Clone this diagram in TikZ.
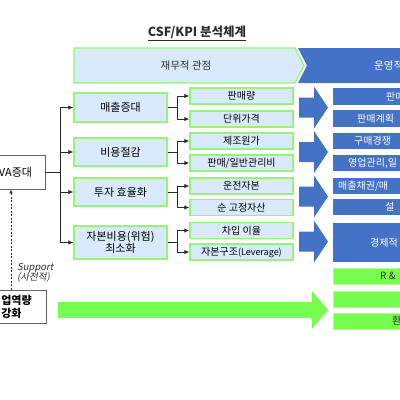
\documentclass[tikz,border=0pt]{standalone}
\usepackage{fontspec}
\setmainfont{Noto Sans CJK KR}
\newfontfamily\slantfont[FakeSlant=0.2]{Noto Sans CJK KR}
\usepackage{tikz}
\usetikzlibrary{arrows.meta, positioning}
\definecolor{boxfill}{RGB}{216,234,251}
\definecolor{boxline}{RGB}{150,245,120}
\definecolor{deepblue}{RGB}{68,114,196}
\definecolor{limegreen}{RGB}{119,252,80}
\definecolor{linegray}{RGB}{40,40,40}
\definecolor{framegray}{RGB}{100,100,100}
\definecolor{textgray}{RGB}{45,45,45}
\tikzset{
  goalbox/.style={draw=boxline, fill=boxfill, line width=1.3pt, minimum width=93pt, inner sep=0pt, align=center, font=\fontsize{11}{12.5}\selectfont},
  kpibox/.style={draw=boxline, fill=boxfill, line width=1.3pt, minimum width=103pt, minimum height=16pt, inner sep=0pt, font=\fontsize{10}{11}\selectfont},
  opbox/.style={fill=deepblue, minimum width=80pt, inner sep=0pt, anchor=west},
  supbox/.style={fill=limegreen, draw=limegreen!60!white, minimum width=80pt, minimum height=16pt, inner sep=0pt, anchor=west},
  plainbox/.style={draw=framegray, fill=white, line width=0.8pt, inner sep=0pt, minimum width=59pt},
  optext/.style={anchor=west, inner sep=0pt, font=\fontsize{10}{11}\selectfont},
  link/.style={draw=linegray, line width=1pt, -{Latex[length=5pt,width=4.5pt]}},
}
\begin{document}
\begin{tikzpicture}[x=1pt, y=-1pt]
    \useasboundingbox (0,0) rectangle (400,400);
    \clip (0,0) rectangle (400,400);
    % title
    \node[font=\bfseries\fontsize{12.5}{14}\selectfont, text=textgray] (title) at (197,33) {\underline{CSF/KPI 분석체계}};
    % header strip
    \draw[draw=boxline, fill=boxfill, line width=1.3pt] (74,48) -- (295,48) -- (304,65.5) -- (295,83) -- (74,83) -- cycle;
    \node[font=\fontsize{10.5}{12}\selectfont, text=textgray] (fin) at (186,65.5) {재무적 관점};
    \fill[deepblue] (298,48) -- (402,48) -- (402,83) -- (298,83) -- (307,65.5) -- cycle;
    \node[optext, text=white, font=\fontsize{10.5}{12}\selectfont] (ops) at (374,65.5) {운영적};
    % left boxes
    \node[plainbox, minimum height=34pt, font=\fontsize{11}{12.5}\selectfont] (eva) at (15.5,172) {VA증대};
    \node[plainbox, minimum height=33pt, align=left, font=\bfseries\fontsize{11}{13}\selectfont] (skill) at (16.5,306.5) {업역량\\강화};
    % level 2
    \node[goalbox, minimum height=29pt] (sales) at (120.5,107.5) {매출증대};
    \node[goalbox, minimum height=28pt] (cost) at (120.5,152) {비용절감};
    \node[goalbox, minimum height=28pt] (invest) at (120.5,192) {투자 효율화};
    \node[goalbox, minimum height=33pt] (capital) at (120.5,242.5) {자본비용(위험)\\최소화};
    % level 3
    \node[kpibox] (volume) at (241.5,96) {판매량};
    \node[kpibox] (price) at (241.5,119) {단위가격};
    \node[kpibox] (mfg) at (241.5,141) {제조원가};
    \node[kpibox] (sga) at (241.5,163) {판매/일반관리비};
    \node[kpibox] (working) at (241.5,186) {운전자본};
    \node[kpibox] (fixed) at (241.5,207.5) {순 고정자산};
    \node[kpibox] (rate) at (241.5,230.5) {차입 이율};
    \node[kpibox] (lever) at (241.5,252) {자본구조{\fontsize{9}{10}\selectfont(Leverage)}};
    % tree links
    \coordinate (trunk) at (60,172);
    \foreach \g in {sales,cost,invest,capital} { \draw[link] (eva.east) -- (trunk) |- (\g.west); }
    \foreach \g/\a/\b in {sales/volume/price, cost/mfg/sga, invest/working/fixed, capital/rate/lever} {
        \draw[link] (\g.east) -- ++(10,0) |- (\a.west);
        \draw[link] (\g.east) -- ++(10,0) |- (\b.west);
    }
    % support link
    \coordinate (supx) at (11,240);
    \draw[draw=textgray, line width=0.6pt, dash pattern=on 2pt off 1.5pt, -{Latex[length=4pt,width=3.5pt]}] (supx |- skill.north) -- (supx |- eva.south);
    \node[anchor=west, align=left, inner sep=0pt, text=textgray, font=\slantfont\fontsize{9.5}{10.5}\selectfont] (suptext) at (17,273) {Support\\(사전적)};
    % block arrows
    \foreach \yc in {107.5,152,196.5,241.5} {
        \fill[deepblue] (299,\yc-10) -- (314,\yc-10) -- (314,\yc-21) -- (328,\yc) -- (314,\yc+21) -- (314,\yc+10) -- (299,\yc+10) -- cycle;
    }
    \fill[limegreen] (58,302) -- (312,302) -- (312,291) -- (328,310) -- (312,329) -- (312,318) -- (58,318) -- cycle;
    % operating column
    \node[opbox, minimum height=17pt] (op1) at (333,96.5) {};
    \node[opbox, minimum height=17pt] (op2) at (333,118.5) {};
    \node[opbox, minimum height=16pt] (op3) at (333,141) {};
    \node[opbox, minimum height=16pt] (op4) at (333,163) {};
    \node[opbox, minimum height=16pt] (op5) at (333,186) {};
    \node[opbox, minimum height=16pt] (op6) at (333,207) {};
    \node[opbox, minimum height=39pt] (op7) at (333,242.5) {};
    \node[optext, text=white] (op1t) at (386,96.5) {판매};
    \node[optext, text=white] (op2t) at (357,118.5) {판매계획};
    \node[optext, text=white] (op3t) at (354,141) {구매경쟁};
    \node[optext, text=white] (op4t) at (348,163) {영업관리,일};
    \node[optext, text=white] (op5t) at (338,186) {매출채권/매};
    \node[optext, text=white] (op6t) at (385,207) {설};
    \node[optext, text=white] (op7t) at (370,242.5) {경제적};
    % support column
    \node[supbox] (sp1) at (333,276) {};
    \node[supbox] (sp2) at (333,299) {};
    \node[supbox] (sp3) at (333,321) {};
    \node[optext, text=textgray] (sp1t) at (380,276) {R \&};
    \node[optext, text=textgray] (sp3t) at (392,321) {환};
\end{tikzpicture}
\end{document}
